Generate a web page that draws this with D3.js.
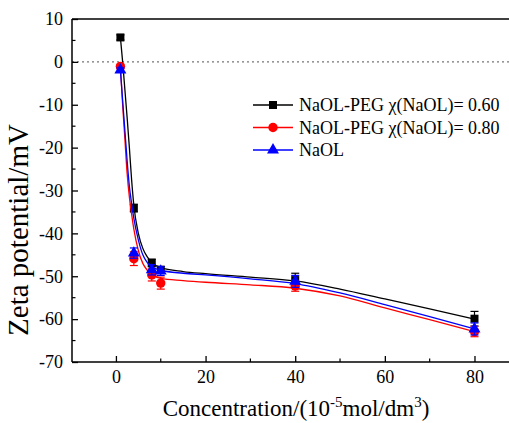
<!DOCTYPE html>
<html><head><meta charset="utf-8">
<script src="https://cdn.jsdelivr.net/npm/d3@7"></script>
<style>html,body{margin:0;padding:0;background:#fff;}svg{display:block;} text{font-family:"Liberation Serif","Times New Roman",serif;}</style>
</head><body>
<svg id="c" width="509" height="423"></svg>
<script>
// ---- data ----
const concentrations = [1, 4, 8, 10, 40, 80];
const peg060 = [5.7, -34.1, -46.9, -48.5, -50.9, -59.9];
const peg060Err = [0.6, 0.9, 0.9, 0.8, 1.6, 1.7];
const peg080 = [-1.1, -45.9, -49.7, -51.6, -52.3, -62.9];
const peg080Err = [0.5, 1.6, 1.4, 1.4, 1.2, 1.2];
const naol = [-1.9, -44.6, -48.5, -48.8, -51.2, -62.3];
const naolErr = [0.5, 1.2, 1.2, 1.0, 1.4, 1.4];

// fitted curves
const fitX = [1, 1.5, 2, 2.5, 3, 3.5, 4, 5, 6, 7, 8, 10, 15, 20, 30, 40, 50, 60, 70, 80];
const fit060 = [5.7, 0, -6.5, -13, -20, -27.5, -33.5, -40, -43.5, -45.5, -46.8, -48, -48.9, -49.4, -50.2, -51.1, -53, -55.3, -57.6, -60];
const fit080 = [-1.1, -10, -18, -26, -31.5, -35.5, -39, -44, -47, -48.6, -49.5, -50.5, -51, -51.4, -52, -52.8, -54.6, -57.4, -60.1, -62.9];
const fitNaol = [-1.9, -9, -16, -23, -29, -33, -36.5, -41.5, -45, -46.8, -47.8, -48.6, -49.3, -49.7, -50.6, -51.7, -53.9, -56.6, -59.4, -62.3];

const xTicks = [0, 20, 40, 60, 80];
const xMinor = [10, 30, 50, 70];
const yTicks = [10, 0, -10, -20, -30, -40, -50, -60, -70];
const yMinor = [5, -5, -15, -25, -35, -45, -55, -65];
const seriesNames = ["NaOL-PEG \u03C7(NaOL)= 0.60", "NaOL-PEG \u03C7(NaOL)= 0.80", "NaOL"];
const seriesColors = ["#000000", "#ff0000", "#0000ff"];
const seriesShapes = ["square", "circle", "triangle"];

// ---- chart ----
const svg = d3.select("#c");
const L = 72, T = 19, R = 509, B = 362;
const x = d3.scaleLinear().domain([-9.8, 87.7]).range([L, R]);
const y = d3.scaleLinear().domain([-70, 10]).range([B, T]);
const font = '"Liberation Serif","Times New Roman",serif';

// zero dotted line
svg.append("line").attr("x1", L).attr("x2", R).attr("y1", y(0)).attr("y2", y(0))
  .attr("stroke", "#777").attr("stroke-width", 1.2).attr("stroke-dasharray", "2,3");

const series = [
  {vals: peg060, err: peg060Err, fit: fit060},
  {vals: peg080, err: peg080Err, fit: fit080},
  {vals: naol, err: naolErr, fit: fitNaol}
];
const line = d3.line().x(d => x(d[0])).y(d => y(d[1])).curve(d3.curveMonotoneX);

function symbolFor(shape) {
  if (shape === "square") return d3.symbol().type(d3.symbolSquare).size(64);
  if (shape === "circle") return d3.symbol().type(d3.symbolCircle).size(70);
  return d3.symbol().type(d3.symbolTriangle).size(62);
}

series.forEach((s, i) => {
  const c = seriesColors[i];
  const g = svg.append("g");
  g.append("path").datum(fitX.map((xv, k) => [xv, s.fit[k]]))
    .attr("d", line).attr("fill", "none").attr("stroke", c).attr("stroke-width", 1.3);
  concentrations.forEach((cx, k) => {
    const v = s.vals[k], e = s.err[k];
    const px = x(cx);
    g.append("line").attr("x1", px).attr("x2", px).attr("y1", y(v - e)).attr("y2", y(v + e))
      .attr("stroke", c).attr("stroke-width", 1.2);
    [v - e, v + e].forEach(ev => {
      g.append("line").attr("x1", px - 4).attr("x2", px + 4).attr("y1", y(ev)).attr("y2", y(ev))
        .attr("stroke", c).attr("stroke-width", 1.2);
    });
    g.append("path").attr("d", symbolFor(seriesShapes[i])())
      .attr("transform", `translate(${px},${y(v)})`).attr("fill", c);
  });
});

// axes
const ax = svg.append("g").attr("stroke", "#000");
ax.append("line").attr("x1", L).attr("x2", L).attr("y1", T).attr("y2", B).attr("stroke-width", 1.5);
ax.append("line").attr("x1", L).attr("x2", R).attr("y1", B).attr("y2", B).attr("stroke-width", 1.5);
ax.append("line").attr("x1", L).attr("x2", R).attr("y1", T).attr("y2", T).attr("stroke-width", 1.5);

const xAxis = d3.axisBottom(x).tickValues(xTicks).tickSizeInner(-6).tickSizeOuter(0).tickPadding(8).tickFormat(d => String(d));
const gx = svg.append("g").attr("transform", `translate(0,${B})`).call(xAxis);
gx.select(".domain").remove();
gx.selectAll(".tick line").attr("stroke-width", 1.3);
gx.selectAll("text").style("font-family", font).style("font-size", "18px").attr("fill", "#000");
xMinor.forEach(v => svg.append("line").attr("x1", x(v)).attr("x2", x(v)).attr("y1", B).attr("y2", B - 3.5).attr("stroke", "#000").attr("stroke-width", 1.2));

const yAxis = d3.axisLeft(y).tickValues(yTicks).tickSizeInner(-6).tickSizeOuter(0).tickPadding(9).tickFormat(d => String(d));
const gy = svg.append("g").attr("transform", `translate(${L},0)`).call(yAxis);
gy.select(".domain").remove();
gy.selectAll(".tick line").attr("stroke-width", 1.3);
gy.selectAll("text").style("font-family", font).style("font-size", "18px").attr("fill", "#000");
yMinor.forEach(v => svg.append("line").attr("x1", L).attr("x2", L + 3.5).attr("y1", y(v)).attr("y2", y(v)).attr("stroke", "#000").attr("stroke-width", 1.2));

// axis titles
const xt = svg.append("text").attr("x", 296).attr("y", 416).attr("text-anchor", "middle")
  .style("font-family", font).style("font-size", "23px").attr("fill", "#000");
xt.append("tspan").text("Concentration/(10");
xt.append("tspan").style("font-size", "15px").attr("dy", -9).text("-5");
xt.append("tspan").attr("dy", 9).text("mol/dm");
xt.append("tspan").style("font-size", "15px").attr("dy", -9).text("3");
xt.append("tspan").attr("dy", 9).text(")");

svg.append("text").attr("transform", "translate(28,230) rotate(-90)").attr("text-anchor", "middle")
  .style("font-family", font).style("font-size", "29px").attr("fill", "#000").text("Zeta potential/mV");

// legend
const legY = [105, 127.5, 150];
seriesNames.forEach((n, i) => {
  const c = seriesColors[i];
  svg.append("line").attr("x1", 253).attr("x2", 293).attr("y1", legY[i]).attr("y2", legY[i])
    .attr("stroke", c).attr("stroke-width", 1.3);
  svg.append("path").attr("d", symbolFor(seriesShapes[i])()).attr("transform", `translate(273,${legY[i]})`).attr("fill", c);
  svg.append("text").attr("x", 299).attr("y", legY[i] + 6).style("font-family", font)
    .style("font-size", "18px").attr("fill", "#000").text(n);
});
</script>
</body></html>
